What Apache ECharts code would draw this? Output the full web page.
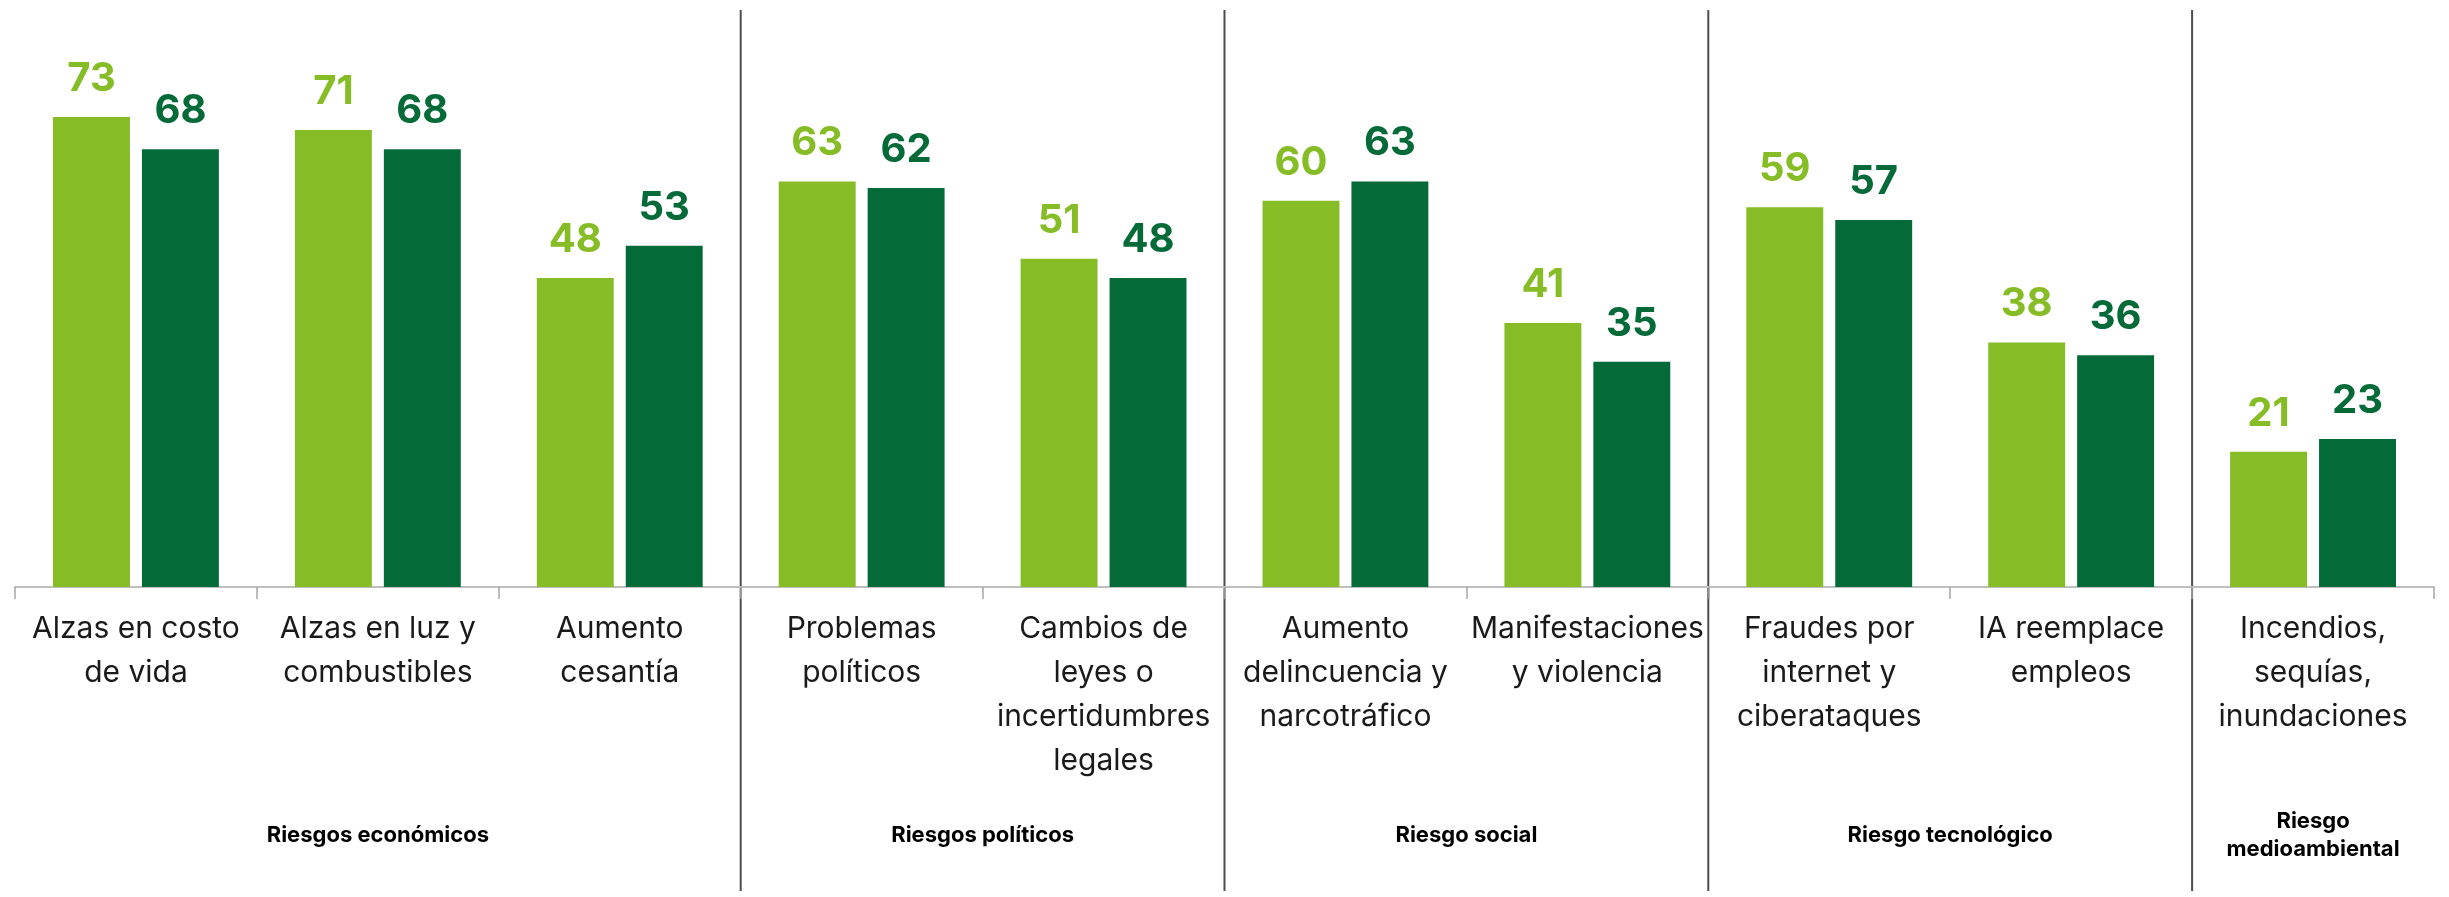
<!DOCTYPE html>
<html>
<head>
<meta charset="utf-8">
<script src="https://cdn.jsdelivr.net/npm/echarts@6/dist/echarts.min.js"></script>
<style>
html,body{margin:0;padding:0;background:#fff;}
#chart{width:2449px;height:897px;}
</style>
</head>
<body>
<div id="chart"></div>
<script>
const categories = [
  "Alzas en costo\nde vida",
  "Alzas en luz y\ncombustibles",
  "Aumento\ncesantía",
  "Problemas\npolíticos",
  "Cambios de\nleyes o\nincertidumbres\nlegales",
  "Aumento\ndelincuencia y\nnarcotráfico",
  "Manifestaciones\ny violencia",
  "Fraudes por\ninternet y\nciberataques",
  "IA reemplace\nempleos",
  "Incendios,\nsequías,\ninundaciones"
];
const seriesA = [73, 71, 48, 63, 51, 60, 41, 59, 38, 21];
const seriesB = [68, 68, 53, 62, 48, 63, 35, 57, 36, 23];
const groupNames = ["Riesgos económicos", "Riesgos políticos", "Riesgo social", "Riesgo tecnológico", "Riesgo\nmedioambiental"];
const groupSizes = [3, 2, 2, 2, 1];

const LIGHT = '#86BC25';
const DARK = '#046A38';
const FONT = 'Inter, "Noto Sans", sans-serif';

const chart = echarts.init(document.getElementById('chart'), null, {renderer: 'canvas'});

const option = {
  animation: false,
  backgroundColor: '#ffffff',
  grid: {left: 15, right: 15, top: 72, bottom: 310, containLabel: false},
  xAxis: {
    type: 'category',
    data: categories,
    boundaryGap: true,
    axisLine: {show: true, lineStyle: {color: '#bfbfbf', width: 2}},
    axisTick: {show: true, length: 12, lineStyle: {color: '#a6a6a6', width: 1.5}},
    axisLabel: {
      interval: 0,
      margin: 20,
      color: '#1a1a1a',
      fontFamily: FONT,
      fontSize: 30,
      lineHeight: 44,
      align: 'center',
      verticalAlign: 'top'
    },
    splitLine: {show: false}
  },
  yAxis: {
    type: 'value',
    min: 0,
    max: 80,
    show: false,
    splitLine: {show: false}
  },
  series: [
    {
      type: 'bar',
      data: seriesA,
      barWidth: '31.8%',
      barGap: '15.6%',
      itemStyle: {color: LIGHT},
      label: {
        show: true, position: 'top', distance: 18,
        color: LIGHT, fontFamily: FONT, fontWeight: 'bold', fontSize: 40
      }
    },
    {
      type: 'bar',
      data: seriesB,
      barWidth: '31.8%',
      itemStyle: {color: DARK},
      label: {
        show: true, position: 'top', distance: 18,
        color: DARK, fontFamily: FONT, fontWeight: 'bold', fontSize: 40
      }
    }
  ]
};
chart.setOption(option);

// Separators and group labels, positioned from the category axis scale
const px = i => chart.convertToPixel({xAxisIndex: 0}, i);
const catW = px(1) - px(0);
const graphics = [];
let start = 0;
groupSizes.forEach((size, g) => {
  const end = start + size - 1;
  const left = px(start) - catW / 2;
  const right = px(end) + catW / 2;
  graphics.push({
    type: 'text',
    x: (left + right) / 2,
    y: 835,
    style: {
      text: groupNames[g],
      fill: '#000000',
      font: 'bold 22px ' + FONT,
      textAlign: 'center',
      textVerticalAlign: 'middle',
      lineHeight: 28
    }
  });
  if (g < groupSizes.length - 1) {
    graphics.push({
      type: 'line',
      shape: {x1: right, y1: 10, x2: right, y2: 891},
      style: {stroke: '#4d4d4d', lineWidth: 2}
    });
  }
  start = end + 1;
});
chart.setOption({graphic: graphics});
</script>
</body>
</html>
